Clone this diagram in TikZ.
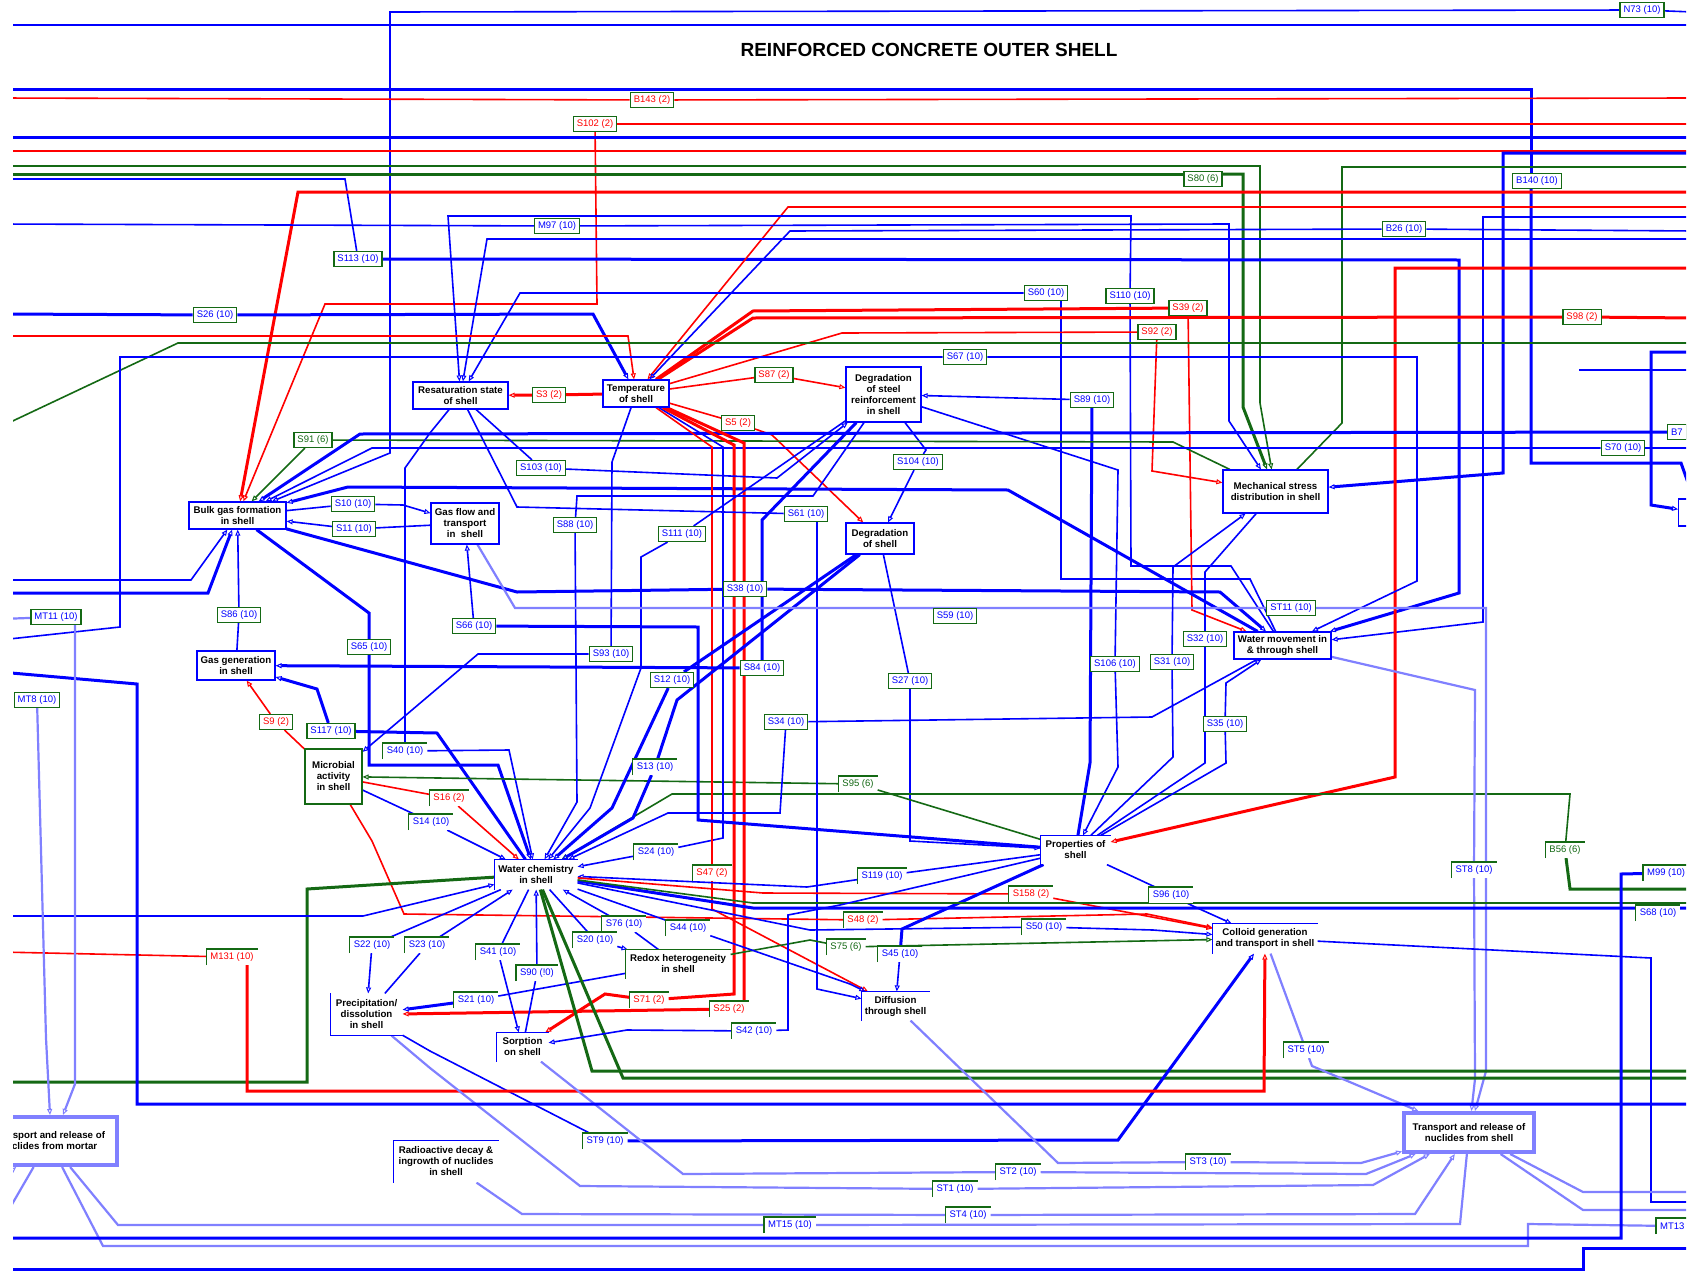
\documentclass[tikz,border=0pt]{standalone}
\usepackage{fontspec}
\setmainfont{Liberation Sans}
\usetikzlibrary{arrows.meta}
\definecolor{cb}{RGB}{0,0,255}
\definecolor{cr}{RGB}{255,0,0}
\definecolor{cg}{RGB}{20,105,20}
\definecolor{cl}{RGB}{128,128,255}
\pgfdeclarelayer{bg}\pgfsetlayers{bg,main}
\tikzset{pr/.style={draw=cb,line width=1.2pt,fill=white,align=center,font=\bfseries\fontsize{9.7}{11}\selectfont,inner sep=1pt},
 po/.style={pr,draw=none},
 lab/.style={draw=cg,line width=1.2pt,fill=white,font=\fontsize{9.5}{10}\selectfont,inner xsep=3.5pt,inner ysep=1pt,minimum height=15pt},
 lo/.style={lab,draw=none},tb/.style={text=cb},tr/.style={text=cr},tg/.style={text=cg},
 bl/.style={cb,line width=1.6pt},bL/.style={cb,line width=3pt},
 rd/.style={cr,line width=1.6pt},rD/.style={cr,line width=3pt},
 gn/.style={cg,line width=1.6pt},gN/.style={cg,line width=3pt},
 lb/.style={cl,line width=2.2pt},
 ar/.style={-{Triangle[open,length=6pt,width=5pt,line width=1pt]}}}

\begin{document}
\begin{tikzpicture}[x=1pt,y=-1pt]
\useasboundingbox(0,0) rectangle (1693,1271);
\begin{scope}
\clip(13,0) rectangle (1686,1271);
\node[font=\bfseries\fontsize{19}{21}\selectfont](title) at (929,50){REINFORCED CONCRETE OUTER SHELL};
\node[pr,minimum width=95pt,minimum height=27pt](resat) at (460.5,395.5){Resaturation state\\of shell};
\node[pr,minimum width=66pt,minimum height=27pt](temp) at (636,393.5){Temperature\\of shell};
\node[pr,minimum width=75pt,minimum height=55pt](dsteel) at (883.5,394.5){Degradation\\of steel\\reinforcement\\in shell};
\node[pr,minimum width=97pt,minimum height=27pt](bulk) at (237.5,515.5){Bulk gas formation\\in shell};
\node[pr,minimum width=68pt,minimum height=41pt](gasflow) at (465,523.5){Gas flow and\\transport\\in~ shell};
\node[pr,minimum width=68pt,minimum height=31pt](dshell) at (880,538.5){Degradation\\of shell};
\node[pr,minimum width=105pt,minimum height=43pt](mech) at (1275.5,491.5){Mechanical stress\\distribution in shell};
\node[pr,minimum width=97pt,minimum height=27pt](water) at (1282.5,645.5){Water movement in\\\& through shell};
\node[pr,minimum width=78pt,minimum height=29pt](gasgen) at (236,665.5){Gas generation\\in shell};
\node[pr,draw=cg,minimum width=57pt,minimum height=55pt](micro) at (333.5,776.5){Microbial\\activity\\in shell};
\node[po,minimum width=82pt,minimum height=29pt](wchem) at (536,874.5){Water chemistry\\in shell};
\node[po,minimum width=69pt,minimum height=28pt](props) at (1075.5,850){Properties of\\shell};
\node[po,minimum width=104pt,minimum height=28pt](redox) at (678,964){Redox heterogeneity\\in shell};
\node[po,minimum width=71pt,minimum height=41pt](precip) at (366.5,1014.5){Precipitation/\\dissolution\\in shell};
\node[po,minimum width=51pt,minimum height=28pt](sorp) at (522.5,1047){Sorption\\on shell};
\node[po,minimum width=67pt,minimum height=28pt](diff) at (895.5,1006){Diffusion\\through shell};
\node[po,minimum width=104pt,minimum height=29pt](colloid) at (1265,938.5){Colloid generation\\and transport in shell};
\node[po,minimum width=104pt,minimum height=41pt](radio) at (446,1161.5){Radioactive decay \&\\ingrowth of nuclides\\in shell};
\node[pr,draw=cl,line width=4pt,minimum width=130pt,minimum height=39pt](transh) at (1469,1132.5){Transport and release of\\nuclides from shell};
\node[pr,draw=cl,line width=4pt,anchor=east,minimum height=48pt,inner xsep=12pt](mortar) at (119,1141){Transport and release of\\nuclides from mortar};
\node[pr,anchor=west,minimum width=40pt,minimum height=27pt](rnode) at (1678,512.5){};
\foreach \n in {wchem,props,sorp,diff,colloid,radio} \draw[cb,line width=1.2pt](\n.south west)|-(\n.north east);
\draw[cg,line width=1.2pt](redox.south west)|-(redox.north east);
\draw[cb,line width=1.2pt](precip.north west)|-(precip.south east);
\node[lab,tb](n73) at (1642,10){N73 (10)};
\node[lab,tr](b143) at (652,100){B143 (2)};
\node[lab,tr](s102) at (595,124){S102 (2)};
\node[lab,tg](s80) at (1203,179){S80 (6)};
\node[lab,tb](b140) at (1537,181){B140 (10)};
\node[lab,tb](b26) at (1404,229){B26 (10)};
\node[lab,tb](m97) at (557,226){M97 (10)};
\node[lab,tb](s113) at (358,259){S113 (10)};
\node[lab,tb](s26) at (215,315){S26 (10)};
\node[lab,tb](s60) at (1046,293){S60 (10)};
\node[lab,tb](s110) at (1130,296){S110 (10)};
\node[lab,tr](s39) at (1188,308){S39 (2)};
\node[lab,tr](s92) at (1157,332){S92 (2)};
\node[lab,tr](s98) at (1582,317){S98 (2)};
\node[lab,tb](s67) at (965,357){S67 (10)};
\node[lab,tb](s89) at (1092,400){S89 (10)};
\node[lab,tr](s87) at (774,375){S87 (2)};
\node[lab,tr](s3) at (549,395){S3 (2)};
\node[lab,tr](s5) at (738,423){S5 (2)};
\node[lab,tg](s91) at (313,440){S91 (6)};
\node[lab,tb](s70) at (1623,448){S70 (10)};
\node[lab,tb,anchor=west](b7) at (1667,432){B7};
\node[lab,tb](s104) at (918,462){S104 (10)};
\node[lab,tb](s103) at (541,468){S103 (10)};
\node[lab,tb](s10) at (353,504){S10 (10)};
\node[lab,tb](s11) at (354,529){S11 (10)};
\node[lab,tb](s61) at (806,514){S61 (10)};
\node[lab,tb](s88) at (575,525){S88 (10)};
\node[lab,tb](s111) at (682,534){S111 (10)};
\node[lab,tb](s38) at (745,589){S38 (10)};
\node[lab,tb](st11) at (1291,608){ST11 (10)};
\node[lab,tb](s59) at (955,616){S59 (10)};
\node[lab,tb](mt11) at (56,617){MT11 (10)};
\node[lab,tb](s86) at (239,615){S86 (10)};
\node[lab,tb](s66) at (474,626){S66 (10)};
\node[lab,tb](s32) at (1205,639){S32 (10)};
\node[lab,tb](s93) at (611,654){S93 (10)};
\node[lab,tb](s65) at (369,647){S65 (10)};
\node[lab,tb](s106) at (1115,664){S106 (10)};
\node[lab,tb](s31) at (1172,662){S31 (10)};
\node[lab,tb](s84) at (762,668){S84 (10)};
\node[lab,tb](s12) at (672,680){S12 (10)};
\node[lab,tb](s27) at (910,681){S27 (10)};
\node[lab,tb](mt8) at (37,700){MT8 (10)};
\node[lab,tr](s9) at (276,722){S9 (2)};
\node[lab,tb](s117) at (331,731){S117 (10)};
\node[lab,tb](s34) at (786,722){S34 (10)};
\node[lab,tb](s35) at (1225,724){S35 (10)};
\node[lo,tb](s40) at (405,751){S40 (10)};
\node[lo,tb](s13) at (655,767){S13 (10)};
\node[lo,tg](s95) at (858,784){S95 (6)};
\node[lo,tr](s16) at (449,798){S16 (2)};
\node[lo,tb](s14) at (431,822){S14 (10)};
\node[lo,tb](s24) at (656,852){S24 (10)};
\node[lo,tr](s47) at (712,873){S47 (2)};
\node[lo,tb](s119) at (882,876){S119 (10)};
\node[lo,tr](s158) at (1031,894){S158 (2)};
\node[lo,tb](s96) at (1171,895){S96 (10)};
\node[lo,tr](s48) at (863,920){S48 (2)};
\node[lo,tb](s50) at (1044,927){S50 (10)};
\node[lo,tg](s75) at (846,947){S75 (6)};
\node[lo,tb](s45) at (900,954){S45 (10)};
\node[lo,tb](s68) at (1658,913){S68 (10)};
\node[lo,tb,anchor=west](m99) at (1643,873){M99 (10)};
\node[lo,tg](b56) at (1565,850){B56 (6)};
\node[lo,tb](st8) at (1474,870){ST8 (10)};
\node[lo,tb](s76) at (624,924){S76 (10)};
\node[lo,tb](s44) at (688,928){S44 (10)};
\node[lo,tb](s20) at (595,940){S20 (10)};
\node[lo,tb](s22) at (372,945){S22 (10)};
\node[lo,tb](s23) at (427,945){S23 (10)};
\node[lo,tr](m131) at (232,957){M131 (10)};
\node[lo,tb](s41) at (498,952){S41 (10)};
\node[lo,tb](s90) at (537,973){S90 (!0)};
\node[lo,tb](s21) at (476,1000){S21 (10)};
\node[lo,tr](s71) at (649,1000){S71 (2)};
\node[lo,tr](s25) at (729,1009){S25 (2)};
\node[lo,tb](s42) at (754,1031){S42 (10)};
\node[lo,tb](st9) at (605,1141){ST9 (10)};
\node[lo,tb](st5) at (1306,1050){ST5 (10)};
\node[lo,tb](st3) at (1208,1162){ST3 (10)};
\node[lo,tb](st2) at (1018,1172){ST2 (10)};
\node[lo,tb](st1) at (955,1189){ST1 (10)};
\node[lo,tb](st4) at (968,1215){ST4 (10)};
\node[lo,tb](mt15) at (790,1225){MT15 (10)};
\node[lo,tb,anchor=west](mt13) at (1656,1226){MT13};
\foreach \n in {s40,s13,s95,s16,s14,s24,s47,s119,s158,s96,s48,s50,s75,s45,s68,m99,b56,st8,s76,s44,s20,s22,s23,m131,s41,s90,s21,s71,s25,s42,st9,st5,st3,st2,st1,st4,mt15,mt13}
 \draw[cg,line width=1.2pt](\n.south west)|-(\n.north east);
\end{scope}
\begin{pgfonlayer}{bg}
\fill[white](0,0) rectangle (1693,1271);
\clip(13,0) rectangle (1686,1271);
\draw[bl](1693,12)--(n73);\draw[bl,ar](n73)--(390,12)--(390,453)--(bulk);
\draw[bl](0,25)--(1693,25);
\draw[bL](0,90)--(1531,90)--(1531,0|-b140.north);\draw[bL,ar](1531,0|-b140.south)--(1531,463)--(1681,463)--(rnode);
\draw[rd](0,98)--(b143);\draw[rd](b143)--(1693,98);
\draw[rd](1693,124)--(s102);\draw[rd,ar](s102)--(597,304)--(325,304)--(bulk);
\draw[bL](0,137)--(1693,137);\draw[rd](0,151)--(1693,151);
\draw[bL,ar](1693,153)--(1503,153)--(1503,473)--(mech);
\draw[gn,ar](0,166)--(1260,166)--(1260,403)--(mech);
\draw[gn](1693,167)--(1342,167)--(1342,423)--(mech);
\draw[gN](0,174)--(s80.west|-0,174);\draw[gN,ar](s80.east|-0,174)--(1243,174)--(1243,407)--(mech);
\draw[bl](0,179)--(345,179)--(s113);\draw[bL,ar](s113)--(1459,260)--(1459,593)--(water);
\draw[rD,ar](1693,192)--(298,192)--(bulk);
\draw[rd,ar](1693,207)--(788,207)--(temp);
\draw[bl](water)--(1231,566)--(1131,566)--(s110);\draw[bl,ar](s110)--(1131,216)--(448,216)--(resat);
\draw[bl,ar](1693,217)--(1483,217)--(1483,622)--(water);
\draw[bl](0,224)--(m97);\draw[bl,ar](m97)--(1229,224)--(1229,421)--(mech);
\draw[bl](1693,231)--(b26);\draw[bl,ar](b26)--(790,231)--(temp);
\draw[bl,ar](1693,239)--(487,239)--(resat);
\draw[rD,ar](1693,268)--(1395,268)--(1395,777)--(props);
\draw[bl](water)--(1250,579)--(1061,579)--(1061,0|-s60.south);\draw[bl,ar](s60)--(520,293)--(resat);
\draw[rD](temp)--(753,311)--(s39);\draw[rd,ar](s39)--(1192,610)--(water);
\draw[bL](0,314)--(s26);\draw[bL,ar](s26)--(593,314)--(temp);
\draw[rD](temp)--(753,318)--(s98);\draw[rD](s98)--(1693,318);
\draw[rd](temp)--(842,333)--(s92);\draw[rd,ar](s92)--(1152,471)--(mech);
\draw[rd,ar](0,336)--(628,336)--(temp);
\draw[gn](0,427)--(178,343)--(1693,343);
\draw[bL,ar](1693,352)--(1651,352)--(1651,505)--(rnode);
\draw[bl](0,640)--(120,627)--(120,357)--(s67);\draw[bl,ar](s67)--(1417,357)--(1417,581)--(water);
\draw[bl](1579,370)--(1693,370);
\draw[rd](temp)--(s87);\draw[rd,ar](s87)--(dsteel);
\draw[rD](temp)--(s3);\draw[rD,ar](s3)--(resat);
\draw[rd](temp)--(s5);\draw[rd,ar](s5)--(772,435)--(dshell);
\draw[bL](props)--(1090,763)--(s89);\draw[bl,ar](s89)--(dsteel);
\draw[bl](dsteel)--(1118,470)--(s106);\draw[bl,ar](s106)--(1118,767)--(props);
\draw[bl](dsteel)--(926,450)--(s104);\draw[bl,ar](s104)--(dshell);
\draw[bl](dshell)--(s27);\draw[bl,ar](s27)--(910,841)--(props);
\draw[gn](mech)--(1173,442)--(s91);\draw[gn,ar](s91)--(bulk);
\draw[bL,ar](b7)--(360,434)--(bulk);
\draw[bl](1693,448)--(s70);\draw[bl,ar](s70)--(372,448)--(bulk);
\draw[bL,ar](water)--(1008,490)--(348,487)--(bulk);
\draw[bl](bulk)--(s10);\draw[bl,ar](s10)--(403,505)--(gasflow);
\draw[bl](gasflow)--(s11);\draw[bl,ar](s11)--(bulk);
\draw[bL](bulk)--(517,592)--(s38);\draw[bL,ar](s38)--(1220,592)--(water);
\draw[bl,ar](0,580)--(191,580)--(bulk);\draw[bL,ar](0,593)--(208,593)--(bulk);
\draw[bl](gasgen)--(s86);\draw[bl,ar](s86)--(bulk);
\draw[bL](bulk)--(369,613)--(s65);\draw[bL,ar](s65)--(369,765)--(498,765)--(wchem);
\draw[bL](wchem)--(437,733)--(s117);\draw[bL,ar](s117)--(317,689)--(gasgen);
\draw[bl](resat)--(430,433)--(405,468)--(s40);\draw[bl,ar](s40)--(509,750)--(wchem);
\draw[bl](micro)--(s14);\draw[bl,ar](s14)--(wchem);
\draw[rd](micro)--(s16);\draw[rd,ar](s16)--(wchem);
\draw[rd](micro)--(s9);\draw[rd,ar](s9)--(gasgen);
\draw[bl](temp)--(612,462)--(s93);\draw[bl,ar](s93)--(478,654)--(micro);
\draw[gn](props)--(s95);\draw[gn,ar](s95)--(micro);
\draw[gN](1693,889)--(1570,889)--(b56);\draw[gn,ar](b56)--(1570,794)--(672,794)--(wchem);
\draw[bl](temp)--(723,447)--(723,838)--(s24);\draw[bl,ar](s24)--(wchem);
\draw[rd](temp)--(712,447)--(s47);\draw[rd,ar](s47)--(712,909)--(diff);
\draw[rD](temp)--(734,445)--(734,994)--(s71);\draw[rD,ar](s71)--(605,994)--(sorp);
\draw[rD](temp)--(744,443)--(744,1001)--(s25);\draw[rD,ar](s25)--(precip);
\draw[bl](resat)--(517,507)--(s61);\draw[bl,ar](817,0|-s61.south)--(817,989)--(diff);
\draw[bl](resat)--(s103);\draw[bl,ar](s103)--(777,478)--(dsteel);
\draw[bl](dsteel)--(813,496)--(577,496)--(s88);\draw[bl,ar](s88)--(577,802)--(wchem);
\draw[bl](dsteel)--(s111);\draw[bl,ar](s111)--(641,557)--(641,668)--(590,808)--(wchem);
\draw[bL](dshell)--(s12);\draw[bL,ar](s12)--(612,808)--(wchem);
\draw[bL](dshell)--(677,700)--(s13);\draw[bL,ar](s13)--(633,818)--(wchem);
\draw[bL](dsteel)--(762,520)--(s84);\draw[bL,ar](s84)--(gasgen);
\draw[bL](props)--(698,820)--(698,627)--(s66);\draw[bl,ar](s66)--(gasflow);
\draw[lb](gasflow)--(515,608)--(st11);\draw[lb,ar](st11)--(1486,608)--(1486,1071)--(transh);
\draw[lb](water)--(1475,690)--(st8);\draw[lb,ar](st8)--(1475,1079)--(transh);
\draw[bl](water)--(1152,717)--(s34);\draw[bl,ar](s34)--(780,813)--(668,813)--(wchem);
\draw[bl](props)--(1173,757)--(s31);\draw[bl,ar](s31)--(1173,567)--(mech);
\draw[bl](props)--(1205,763)--(s32);\draw[bl](s32)--(1205,572)--(mech);
\draw[bl](props)--(1226,763)--(s35);\draw[bl,ar](s35)--(1226,683)--(water);
\draw[bl](props)--(s119);\draw[bl,ar](s119)--(807,887)--(wchem);
\draw[rd](wchem)--(763,893)--(s158);\draw[rd,ar](s158)--(colloid);
\draw[rd](micro)--(372,841)--(404,914)--(s48);\draw[rd,ar](s48)--(1147,914)--(colloid);
\draw[bl](wchem)--(810,930)--(s50);\draw[bl,ar](s50)--(1153,930)--(colloid);
\draw[gn](redox)--(810,940)--(s75);\draw[gn,ar](s75)--(colloid);
\draw[bl](props)--(1153,886)--(s96);\draw[bl,ar](s96)--(1193,906)--(colloid);
\draw[bL](props)--(902,929)--(s45);\draw[bl,ar](s45)--(diff);
\draw[bL](wchem)--(753,908)--(1693,908);
\draw[gn](wchem)--(753,903)--(1693,903);
\draw[gN](wchem)--(307,889)--(307,1082)--(0,1082);
\draw[bl,ar](0,916)--(363,916)--(wchem);
\draw[bl](wchem)--(s22);\draw[bl,ar](s22)--(precip);
\draw[bl](precip)--(s23);\draw[bl,ar](s23)--(wchem);
\draw[bl](wchem)--(s41);\draw[bl,ar](s41)--(sorp);
\draw[bl](sorp)--(s90);\draw[bl,ar](s90)--(wchem);
\draw[bl](wchem)--(s20);\draw[bl,ar](s20)--(redox);
\draw[bl](redox)--(s76);\draw[bl,ar](s76)--(wchem);
\draw[bl](wchem)--(s44);\draw[bl,ar](s44)--(850,984)--(diff);
\draw[bl](redox)--(s21);\draw[bL,ar](s21)--(precip);
\draw[gN](wchem)--(592,1071)--(1693,1071);\draw[gN](wchem)--(623,1078)--(1693,1078);
\draw[bl](props)--(840,905)--(788,915)--(788,1030)--(s42);\draw[bl,ar](s42)--(627,1030)--(sorp);
\draw[bl](precip)--(430,1051)--(st9);\draw[bL,ar](st9)--(1118,1140)--(colloid);
\draw[bl](colloid)--(1651,958)--(1651,1202)--(1693,1202);
\draw[lb](colloid)--(st5);\draw[lb,ar](st5)--(1312,1066)--(transh);
\draw[rd](0,952)--(m131);\draw[rD,ar](247,0|-m131.south)--(247,1091)--(1264,1091)--(colloid);
\draw[lb](precip)--(430,1068)--(580,1186)--(st1);\draw[lb,ar](st1)--(1373,1185)--(transh);
\draw[lb](sorp)--(683,1174)--(st2);\draw[lb,ar](st2)--(1366,1174)--(transh);
\draw[lb](diff)--(1058,1163)--(st3);\draw[lb,ar](st3)--(1361,1163)--(transh);
\draw[lb](radio)--(522,1214)--(st4);\draw[lb,ar](st4)--(1415,1214)--(transh);
\draw[lb](transh)--(1460,1224)--(mt15);\draw[lb](mt15)--(118,1225)--(mortar);
\draw[lb](mortar)--(103,1246)--(1528,1246)--(1528,1224)--(mt13);
\draw[lb](transh)--(1583,1210)--(1693,1210);\draw[lb](transh)--(1583,1192)--(1693,1192);
\draw[bL](0,1238)--(1621,1238)--(1621,874)--(m99);
\draw[bL](0,1269)--(1583,1269)--(1583,1248)--(1693,1248);
\draw[bL](0,672)--(137,684)--(137,1104)--(1693,1104);
\draw[lb](0,619)--(mt11);\draw[lb,ar](75,0|-mt11.south)--(75,1084)--(63,0|-mortar.north);
\draw[lb,ar](mt8)--(46,1038)--(50,0|-mortar.north);
\draw[lb](mortar)--(0,1225);\draw[lb,ar](0,1180)--(mortar);
\end{pgfonlayer}
\end{tikzpicture}
\end{document}
